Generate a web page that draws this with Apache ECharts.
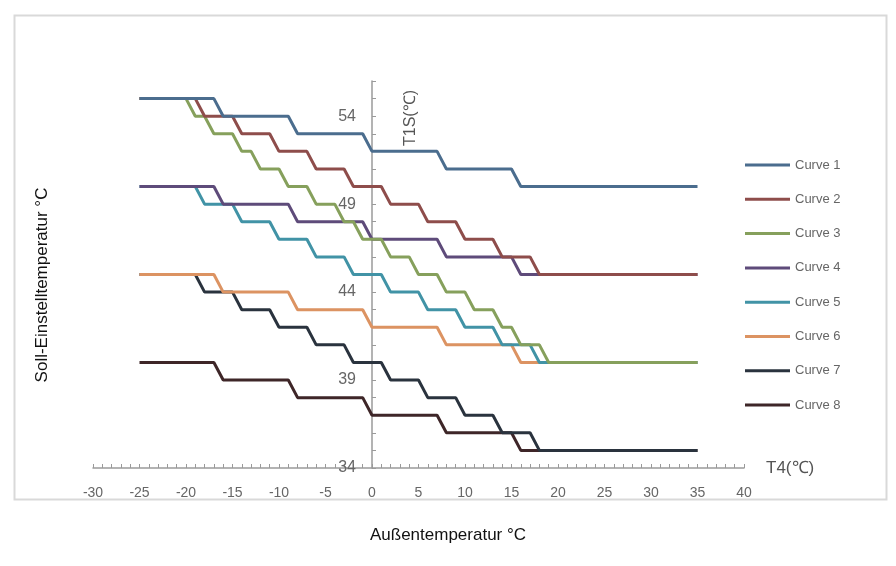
<!DOCTYPE html>
<html>
<head>
<meta charset="utf-8">
<script src="https://cdn.jsdelivr.net/npm/echarts@6/dist/echarts.min.js"></script>
<style>
  html, body { margin: 0; padding: 0; background: #ffffff; }
  #chart { width: 896px; height: 566px; }
</style>
</head>
<body>
<div id="chart"></div>
<script>
// Heating curves: set temperature T1S (°C) against outdoor temperature T4 (°C).
// Each curve is given by its corner points [T4, T1S].
const curveNames = ['Curve 1', 'Curve 2', 'Curve 3', 'Curve 4', 'Curve 5', 'Curve 6', 'Curve 7', 'Curve 8'];

const curve1 = [[-25,55],[-17,55],[-16,54],[-9,54],[-8,53],[-1,53],[0,52],[7,52],[8,51],[15,51],[16,50],[35,50]];
const curve2 = [[-25,55],[-19,55],[-18,54],[-15,54],[-14,53],[-11,53],[-10,52],[-7,52],[-6,51],[-3,51],[-2,50],[1,50],[2,49],[5,49],[6,48],[9,48],[10,47],[13,47],[14,46],[17,46],[18,45],[35,45]];
const curve3 = [[-25,55],[-20,55],[-19,54],[-18,54],[-17,53],[-15,53],[-14,52],[-13,52],[-12,51],[-10,51],[-9,50],[-7,50],[-6,49],[-4,49],[-3,48],[-2,48],[-1,47],[1,47],[2,46],[4,46],[5,45],[7,45],[8,44],[10,44],[11,43],[13,43],[14,42],[15,42],[16,41],[18,41],[19,40],[35,40]];
const curve4 = [[-25,50],[-17,50],[-16,49],[-9,49],[-8,48],[-1,48],[0,47],[7,47],[8,46],[15,46],[16,45],[35,45]];
const curve5 = [[-25,50],[-19,50],[-18,49],[-15,49],[-14,48],[-11,48],[-10,47],[-7,47],[-6,46],[-3,46],[-2,45],[1,45],[2,44],[5,44],[6,43],[9,43],[10,42],[13,42],[14,41],[17,41],[18,40],[35,40]];
const curve6 = [[-25,45],[-17,45],[-16,44],[-9,44],[-8,43],[-1,43],[0,42],[7,42],[8,41],[15,41],[16,40],[35,40]];
const curve7 = [[-25,45],[-19,45],[-18,44],[-15,44],[-14,43],[-11,43],[-10,42],[-7,42],[-6,41],[-3,41],[-2,40],[1,40],[2,39],[5,39],[6,38],[9,38],[10,37],[13,37],[14,36],[17,36],[18,35],[35,35]];
const curve8 = [[-25,40],[-17,40],[-16,39],[-9,39],[-8,38],[-1,38],[0,37],[7,37],[8,36],[15,36],[16,35],[35,35]];

const curveData = [curve1, curve2, curve3, curve4, curve5, curve6, curve7, curve8];
const curveColors = ['#4b6d8e', '#8e4d4b', '#86a05c', '#5e4b7a', '#4193a6', '#dc9362', '#2a333e', '#3e2628'];

// Axis ranges and labelled tick steps
const xMin = -30, xMax = 40, xLabelStep = 5;
const yMin = 34, yMax = 56, yLabelStep = 5;

const gridLeft = 93, gridWidth = 651;

const chart = echarts.init(document.getElementById('chart'), null, { renderer: 'canvas' });

const labelColor = '#666666';
const axisColor = '#9a9a9a';

const series = curveNames.map((name, i) => ({
  name: name,
  type: 'line',
  data: curveData[i],
  symbol: 'none',
  silent: true,
  lineStyle: { color: curveColors[i], width: 3 },
  itemStyle: { color: curveColors[i] },
  z: 10 - i
}));

// Shift the vertical axis (line, ticks and labels) so it crosses at T4 = 0
const yAxisShift = -gridWidth * (0 - xMin) / (xMax - xMin);

chart.setOption({
  animation: false,
  backgroundColor: '#ffffff',
  grid: { left: gridLeft, top: 81, width: gridWidth, height: 387, containLabel: false },
  xAxis: {
    type: 'value',
    min: xMin, max: xMax, interval: 1,
    name: 'T4(\u2103)',
    nameLocation: 'end',
    nameGap: 22,
    nameTextStyle: { color: '#555555', fontSize: 17, fontFamily: 'Liberation Sans', verticalAlign: 'middle' },
    axisLine: { show: true, lineStyle: { color: axisColor, width: 1.5 } },
    axisTick: { show: true, inside: true, length: 4, lineStyle: { color: axisColor } },
    axisLabel: {
      color: labelColor, fontSize: 14, fontFamily: 'Liberation Sans', margin: 18,
      formatter: v => (v % xLabelStep === 0 ? String(v) : '')
    },
    splitLine: { show: false }
  },
  yAxis: {
    type: 'value',
    position: 'left',
    offset: yAxisShift,
    min: yMin, max: yMax, interval: 1,
    axisLine: { show: true, onZero: false, lineStyle: { color: axisColor, width: 1.5 } },
    axisTick: { show: true, inside: true, length: 4, lineStyle: { color: axisColor } },
    axisLabel: {
      color: labelColor, fontSize: 16, fontFamily: 'Liberation Sans', margin: 16,
      formatter: v => ((v - yMin) % yLabelStep === 0 ? String(v) : '')
    },
    splitLine: { show: false }
  },
  legend: {
    orient: 'vertical',
    left: 740,
    top: 153,
    icon: 'rect',
    itemWidth: 45,
    itemHeight: 3,
    itemGap: 20.3,
    data: curveNames,
    textStyle: { color: '#666666', fontSize: 13, lineHeight: 14, fontFamily: 'Liberation Sans' },
    selectedMode: false
  },
  graphic: [
    {
      type: 'rect',
      left: 12, top: 13,
      shape: { width: 872, height: 484 },
      style: { fill: 'none', stroke: '#d9d9d9', lineWidth: 2 },
      silent: true, z: -1
    },
    {
      type: 'text',
      x: 411, y: 118,
      rotation: Math.PI / 2,
      style: {
        text: 'T1S(\u2103)', fill: '#555555', fontSize: 16, fontFamily: 'Liberation Sans',
        align: 'center', verticalAlign: 'middle'
      },
      silent: true
    },
    {
      type: 'text',
      x: 42, y: 285,
      rotation: Math.PI / 2,
      style: {
        text: 'Soll-Einstelltemperatur \u00b0C', fill: '#111111', fontSize: 17, fontFamily: 'Liberation Sans',
        align: 'center', verticalAlign: 'middle'
      },
      silent: true
    },
    {
      type: 'text',
      x: 448, y: 535,
      style: {
        text: 'Au\u00dfentemperatur \u00b0C', fill: '#111111', fontSize: 17, fontFamily: 'Liberation Sans',
        align: 'center', verticalAlign: 'middle'
      },
      silent: true
    }
  ],
  series: series
});
</script>
</body>
</html>
